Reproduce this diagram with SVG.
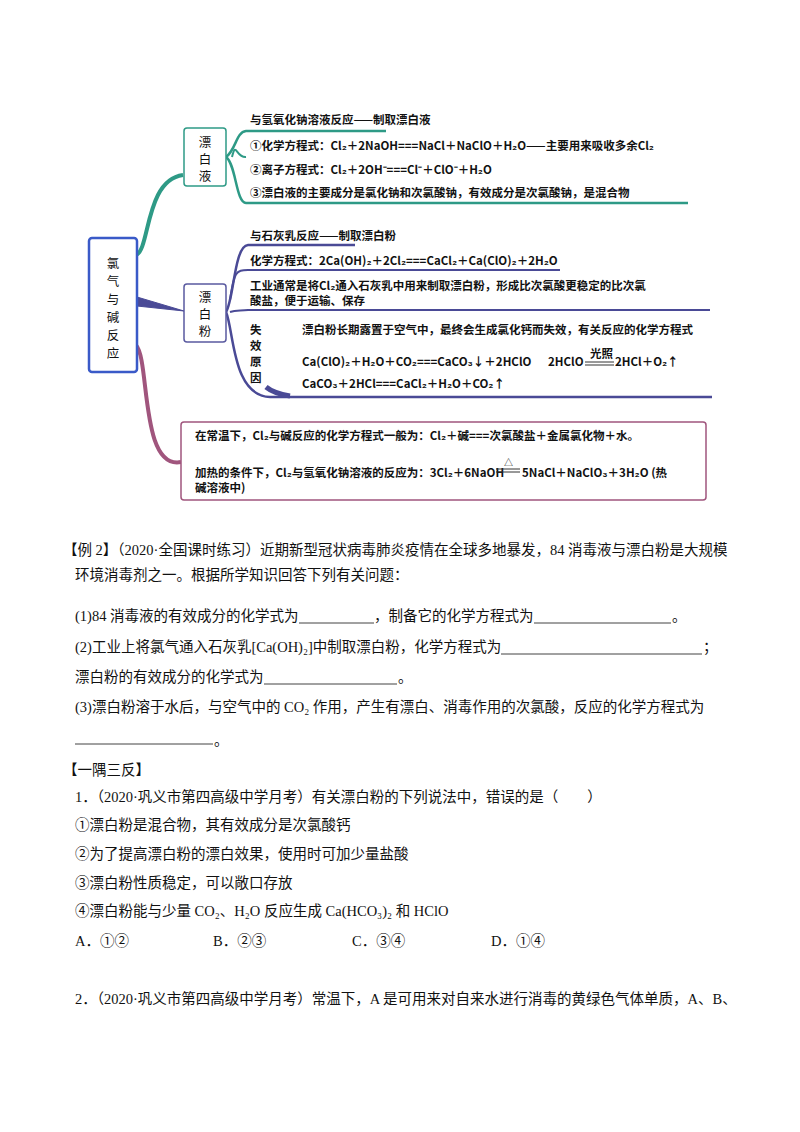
<svg xmlns="http://www.w3.org/2000/svg" width="800" height="1132" viewBox="0 0 800 1132">
<style>
text{font-family:"Liberation Serif","Noto Sans CJK SC",serif;fill:#111}
.m{font-size:11.5px;font-weight:bold;font-family:"Noto Sans CJK SC",sans-serif}
.t{font-size:14.5px}
.v{font-size:12.5px;font-family:"Noto Sans CJK SC",sans-serif}
.u{stroke:#111;stroke-width:0.8}
</style>
<rect width="800" height="1132" fill="#fff"/>
<g id="connectors" fill="none">
<path d="M136,255 C150,250 145,180 183,175" stroke="#2e9a86" stroke-width="4"/>
<path d="M137,297 L184,311 L137,306 Z" fill="#4a4a96" stroke="#4a4a96" stroke-width="1"/>
<path d="M136,345 C150,360 140,470 181,462" stroke="#a0557d" stroke-width="4"/>
<path d="M226,157 C236,150 236,132 246,131 L386,131" stroke="#2e9a86" stroke-width="2.5"/>
<path d="M226,157 C236,164 236,203 246,203 L688,203" stroke="#2e9a86" stroke-width="2.5"/>
<path d="M232,157 C236,140 236,158 246,157" stroke="#2e9a86" stroke-width="2"/>
<path d="M226,312 C234,300 234,246 248,245 L355,245" stroke="#4a4a96" stroke-width="2.5"/>
<path d="M230,300 C234,272 236,270 248,270 L560,270" stroke="#4a4a96" stroke-width="2"/>
<path d="M230,312 C236,310 240,311 248,310 L710,310" stroke="#4a4a96" stroke-width="2"/>
<path d="M226,312 C234,330 232,396 270,397 L712,397" stroke="#4a4a96" stroke-width="2.5"/>
<path d="M266,387 C272,392 278,394 290,396" stroke="#4a4a96" stroke-width="5"/>
</g>
<g id="main"><rect x="89" y="238" width="48" height="134" rx="3" fill="#fff" stroke="#3a5ac8" stroke-width="2.5"/>
<text class="v" x="113" y="268" text-anchor="middle">氯</text><text class="v" x="113" y="286" text-anchor="middle">气</text><text class="v" x="113" y="304" text-anchor="middle">与</text><text class="v" x="113" y="322" text-anchor="middle">碱</text><text class="v" x="113" y="340" text-anchor="middle">反</text><text class="v" x="113" y="358" text-anchor="middle">应</text></g>
<g id="n1"><rect x="184" y="128" width="42" height="58" rx="3" fill="#fff" stroke="#2e9a86" stroke-width="1.5"/>
<text class="v" x="205" y="147" text-anchor="middle">漂</text><text class="v" x="205" y="164" text-anchor="middle">白</text><text class="v" x="205" y="181" text-anchor="middle">液</text></g>
<g id="n1t">
<text class="m" x="250" y="124">与氢氧化钠溶液反应——制取漂白液</text>
<text class="m" x="250" y="150">①化学方程式：Cl₂＋2NaOH===NaCl＋NaClO＋H₂O——主要用来吸收多余Cl₂</text>
<text class="m" x="250" y="174">②离子方程式：Cl₂＋2OH⁻===Cl⁻＋ClO⁻＋H₂O</text>
<text class="m" x="250" y="197">③漂白液的主要成分是氯化钠和次氯酸钠，有效成分是次氯酸钠，是混合物</text>
</g>
<g id="n2"><rect x="184" y="284" width="42" height="58" rx="3" fill="#fff" stroke="#5a5aa0" stroke-width="1.5"/>
<text class="v" x="205" y="302" text-anchor="middle">漂</text><text class="v" x="205" y="319" text-anchor="middle">白</text><text class="v" x="205" y="336" text-anchor="middle">粉</text></g>
<g id="n2t">
<text class="m" x="250" y="240">与石灰乳反应——制取漂白粉</text>
<text class="m" x="250" y="265">化学方程式：2Ca(OH)₂＋2Cl₂===CaCl₂＋Ca(ClO)₂＋2H₂O</text>
<text class="m" x="250" y="290">工业通常是将Cl₂通入石灰乳中用来制取漂白粉，形成比次氯酸更稳定的比次氯</text>
<text class="m" x="250" y="305">酸盐，便于运输、保存</text>
<text class="m" x="250" y="334">失</text><text class="m" x="250" y="350">效</text><text class="m" x="250" y="366">原</text><text class="m" x="250" y="382">因</text>
<text class="m" x="302" y="334">漂白粉长期露置于空气中，最终会生成氯化钙而失效，有关反应的化学方程式</text>
<text class="m" x="302" y="366">Ca(ClO)₂＋H₂O＋CO₂===CaCO₃↓＋2HClO</text>
<text class="m" x="548" y="366">2HClO</text>
<text class="m" x="590" y="358" font-size="9">光照</text>
<line x1="585" y1="362" x2="614" y2="362" stroke="#333"/><line x1="585" y1="365" x2="614" y2="365" stroke="#333"/>
<text class="m" x="615" y="366">2HCl＋O₂↑</text>
<text class="m" x="302" y="388">CaCO₃＋2HCl===CaCl₂＋H₂O＋CO₂↑</text>
</g>
<g id="n3"><rect x="181" y="422" width="525" height="78" rx="3" fill="#fff" stroke="#a0557d" stroke-width="1.5"/>
<text class="m" x="195" y="440">在常温下，Cl₂与碱反应的化学方程式一般为：Cl₂＋碱===次氯酸盐＋金属氯化物＋水。</text>
<text class="m" x="195" y="477">加热的条件下，Cl₂与氢氧化钠溶液的反应为：3Cl₂＋6NaOH</text>
<text x="504" y="466" font-size="9" font-family="Liberation Sans">△</text>
<line x1="496" y1="469" x2="520" y2="469" stroke="#333"/><line x1="496" y1="472" x2="520" y2="472" stroke="#333"/>
<text class="m" x="522" y="477">5NaCl＋NaClO₃＋3H₂O (热</text>
<text class="m" x="195" y="492">碱溶液中)</text>
</g>
<g id="body">
<text class="t" x="63" y="555">【例 2】（2020·全国课时练习）近期新型冠状病毒肺炎疫情在全球多地暴发，84 消毒液与漂白粉是大规模</text>
<text class="t" x="75" y="580">环境消毒剂之一。根据所学知识回答下列有关问题：</text>
<text class="t" x="75" y="621">(1)84 消毒液的有效成分的化学式为</text>
<line class="u" x1="299" y1="623" x2="374" y2="623"/>
<text class="t" x="374" y="621">，制备它的化学方程式为</text>
<line class="u" x1="534" y1="623" x2="671" y2="623"/>
<text class="t" x="672" y="621">。</text>
<text class="t" x="75" y="652">(2)工业上将氯气通入石灰乳[Ca(OH)₂]中制取漂白粉，化学方程式为</text>
<line class="u" x1="501" y1="654" x2="702" y2="654"/>
<text class="t" x="703" y="652">；</text>
<text class="t" x="75" y="682">漂白粉的有效成分的化学式为</text>
<line class="u" x1="264" y1="684" x2="397" y2="684"/>
<text class="t" x="398" y="682">。</text>
<text class="t" x="75" y="712">(3)漂白粉溶于水后，与空气中的 CO₂ 作用，产生有漂白、消毒作用的次氯酸，反应的化学方程式为</text>
<line class="u" x1="75" y1="744" x2="213" y2="744"/>
<text class="t" x="214" y="745">。</text>
<text class="t" x="63" y="775">【一隅三反】</text>
<text class="t" x="75" y="802">1．（2020·巩义市第四高级中学月考）有关漂白粉的下列说法中，错误的是（　　）</text>
<text class="t" x="75" y="830">①漂白粉是混合物，其有效成分是次氯酸钙</text>
<text class="t" x="75" y="859">②为了提高漂白粉的漂白效果，使用时可加少量盐酸</text>
<text class="t" x="75" y="888">③漂白粉性质稳定，可以敞口存放</text>
<text class="t" x="75" y="916">④漂白粉能与少量 CO₂、H₂O 反应生成 Ca(HCO₃)₂ 和 HClO</text>
<text class="t" x="75" y="946">A．①②</text><text class="t" x="213" y="946">B．②③</text><text class="t" x="352" y="946">C．③④</text><text class="t" x="491" y="946">D．①④</text>
<text class="t" x="75" y="1004">2．（2020·巩义市第四高级中学月考）常温下，A 是可用来对自来水进行消毒的黄绿色气体单质，A、B、</text>
</g>
</svg>
